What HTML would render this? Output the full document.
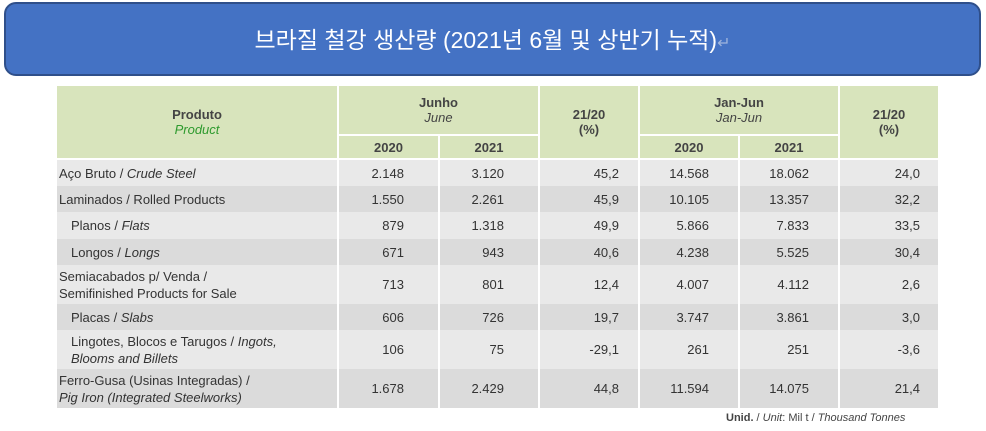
<!DOCTYPE html>
<html><head><meta charset="utf-8">
<style>
html,body{margin:0;padding:0;background:#fff;width:986px;height:431px;overflow:hidden;position:relative;font-family:"Liberation Sans",Arial,sans-serif}
#title{position:absolute;left:4px;top:2px;width:973px;height:70px;background:#4472c4;border:2px solid #2f4f8a;border-radius:12px;color:#fff;font-family:"Liberation Sans","Noto Sans CJK KR",sans-serif;font-size:23px;text-align:center;line-height:72px}
#title .ret{color:#9fb5dd;font-size:16px}
table{position:absolute;left:55px;top:86px;border-collapse:collapse;table-layout:fixed;width:883px}
td{padding:0;font-size:13px;color:#333;border-left:2px solid #fff;border-right:2px solid #fff;overflow:hidden}
thead td{background:#d8e4bc;text-align:center;font-weight:bold;color:#444;border-bottom:2px solid #fff}
thead i{font-weight:normal}
.g{color:#2e9a2e}
tbody td{text-align:right}
tbody td.l{text-align:left;padding-left:2px;line-height:17px}
tbody td.l.in{padding-left:14px}
tr.a td{background:#e9e9e9}
tr.b td{background:#dbdbdb}
td.p1{padding-right:34px}
td.p2{padding-right:19px}
td.p3{padding-right:29px}
td.p4{padding-right:18px}
#foot{position:absolute;left:726px;top:412px;font-size:11px;color:#444}
</style></head><body>
<div id="title">브라질 철강 생산량 (2021년 6월 및 상반기 누적)<span class="ret">↵</span></div>
<table>
<colgroup><col style="width:282px"><col style="width:101px"><col style="width:100px"><col style="width:100px"><col style="width:100px"><col style="width:100px"><col style="width:100px"></colgroup>
<thead>
<tr style="height:49px">
<td rowspan="2">Produto<br><i class="g">Product</i></td>
<td colspan="2">Junho<br><i>June</i></td>
<td rowspan="2">21/20<br>(%)</td>
<td colspan="2">Jan-Jun<br><i>Jan-Jun</i></td>
<td rowspan="2">21/20<br>(%)</td>
</tr>
<tr style="height:24px">
<td>2020</td><td>2021</td>
<td>2020</td><td>2021</td>
</tr>
</thead>
<tbody>
<tr class="a" style="height:27px"><td class="l">Aço Bruto / <i>Crude Steel</i></td><td class="p1">2.148</td><td class="p1">3.120</td><td class="p2">45,2</td><td class="p3">14.568</td><td class="p3">18.062</td><td class="p4">24,0</td></tr>
<tr class="b" style="height:26px"><td class="l">Laminados / Rolled Products</td><td class="p1">1.550</td><td class="p1">2.261</td><td class="p2">45,9</td><td class="p3">10.105</td><td class="p3">13.357</td><td class="p4">32,2</td></tr>
<tr class="a" style="height:27px"><td class="l in">Planos / <i>Flats</i></td><td class="p1">879</td><td class="p1">1.318</td><td class="p2">49,9</td><td class="p3">5.866</td><td class="p3">7.833</td><td class="p4">33,5</td></tr>
<tr class="b" style="height:26px"><td class="l in">Longos / <i>Longs</i></td><td class="p1">671</td><td class="p1">943</td><td class="p2">40,6</td><td class="p3">4.238</td><td class="p3">5.525</td><td class="p4">30,4</td></tr>
<tr class="a" style="height:39px"><td class="l">Semiacabados p/ Venda /<br>Semifinished Products for Sale</td><td class="p1">713</td><td class="p1">801</td><td class="p2">12,4</td><td class="p3">4.007</td><td class="p3">4.112</td><td class="p4">2,6</td></tr>
<tr class="b" style="height:26px"><td class="l in">Placas / <i>Slabs</i></td><td class="p1">606</td><td class="p1">726</td><td class="p2">19,7</td><td class="p3">3.747</td><td class="p3">3.861</td><td class="p4">3,0</td></tr>
<tr class="a" style="height:39px"><td class="l in">Lingotes, Blocos e Tarugos / <i>Ingots,<br>Blooms and Billets</i></td><td class="p1">106</td><td class="p1">75</td><td class="p2">-29,1</td><td class="p3">261</td><td class="p3">251</td><td class="p4">-3,6</td></tr>
<tr class="b" style="height:39px"><td class="l">Ferro-Gusa (Usinas Integradas) /<br><i>Pig Iron (Integrated Steelworks)</i></td><td class="p1">1.678</td><td class="p1">2.429</td><td class="p2">44,8</td><td class="p3">11.594</td><td class="p3">14.075</td><td class="p4">21,4</td></tr>
</tbody>
</table>
<div id="foot"><b>Unid.</b> / <i>Unit</i>: Mil t / <i>Thousand Tonnes</i></div>
</body></html>
